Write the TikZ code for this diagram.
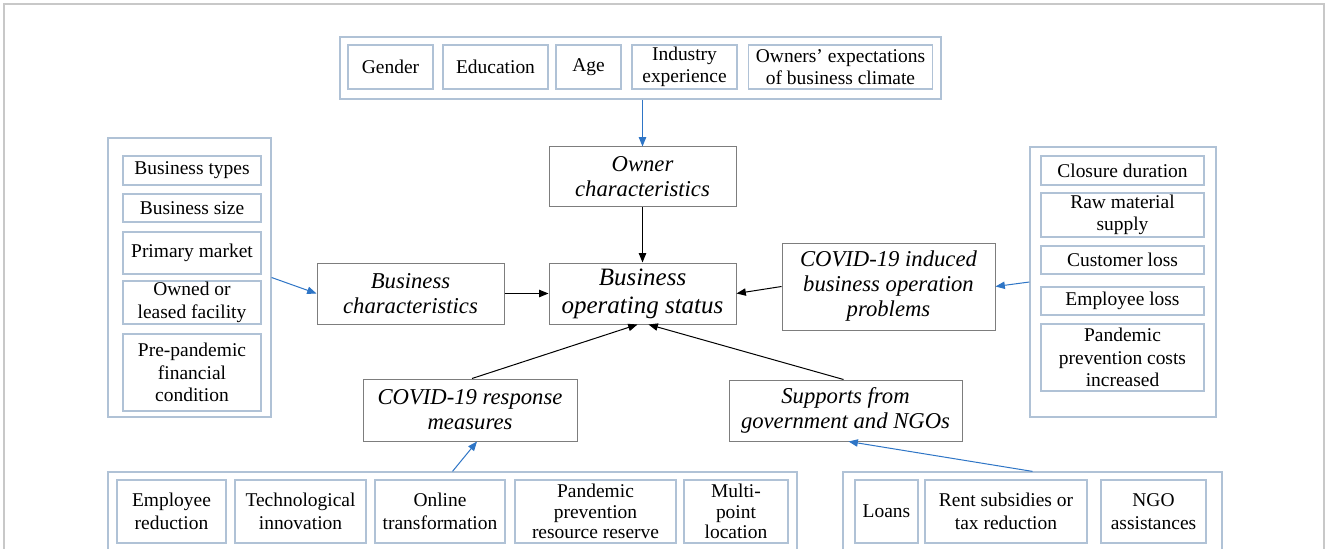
\documentclass[tikz,border=0pt]{standalone}
\usepackage{fontspec}
\setmainfont{Liberation Serif}
\usetikzlibrary{arrows.meta,calc}
\definecolor{grpc}{RGB}{176,194,214}
\definecolor{boxc}{RGB}{125,125,125}
\definecolor{arrb}{RGB}{46,117,198}
\definecolor{framec}{RGB}{200,200,200}
\tikzset{
 sz/.style 2 args={minimum width=#1*0.75pt, minimum height=#2*0.75pt},
 grp/.style={draw=grpc, line width=0.9pt, inner sep=0pt, rectangle},
 item/.style={draw=grpc, line width=0.9pt, inner sep=0pt, align=center, font=\fontsize{14.6}{16.9}\selectfont},
 tight/.style={font=\fontsize{14.6}{15.4}\selectfont},
 mainbox/.style={draw=boxc, line width=0.75pt, inner sep=0pt, align=center, font=\fontsize{17}{18.75}\selectfont\itshape},
 bigbox/.style={mainbox, font=\fontsize{18.75}{21}\selectfont\itshape},
 barr/.style={draw=arrb, line width=0.75pt, -{Triangle[length=7pt,width=5.5pt]}},
 karr/.style={draw=black, line width=0.75pt, -{Triangle[length=7pt,width=5.5pt]}},
}
\begin{document}
\begin{tikzpicture}[x=0.75pt,y=-0.75pt]
\useasboundingbox (0,0) rectangle (1328,549);
\fill[white] (0,0) rectangle (1328,549);
\draw[framec, line width=1pt] (4,549) -- (4,4) -- (1324,4) -- (1324,549);

% top group
\node[grp, sz={601}{62}] (tg) at (640.5,68) {};
\node[item, sz={85}{44}] (g1) at (390.5,67) {Gender};
\node[item, sz={105}{44}] (g2) at (495.5,67) {Education};
\node[item, sz={65}{44}] (g3) at (588.5,67) {Age};
\node[item, sz={105}{44}] (g4) at (684.5,67) {Industry\\experience};
\node[item, sz={184}{44}] (g5) at (840.5,67) {Owners' expectations\\of business climate};

% left group
\node[grp, sz={163}{279}] (lg) at (189.5,277.5) {};
\node[item, sz={138}{29}] (l1) at (192,170.5) {Business types};
\node[item, sz={138}{28}] (l2) at (192,208) {Business size};
\node[item, sz={138}{42}] (l3) at (192,253) {Primary market};
\node[item, sz={138}{43}] (l4) at (192,302.5) {Owned or\\leased facility};
\node[item, sz={138}{77}] (l5) at (192,372.5) {Pre-pandemic\\financial\\condition};

% right group
\node[grp, sz={186}{270}] (rg) at (1123,282) {};
\node[item, sz={163}{29}] (r1) at (1122.5,170.5) {Closure duration};
\node[item, sz={163}{44}] (r2) at (1122.5,215) {Raw material\\supply};
\node[item, sz={163}{28}] (r3) at (1122.5,260) {Customer loss};
\node[item, sz={163}{28}] (r4) at (1122.5,301) {Employee loss};
\node[item, sz={163}{67}] (r5) at (1122.5,357.5) {Pandemic\\prevention costs\\increased};

% bottom-left group
\node[grp, sz={689}{88}] (bl) at (452.5,516) {};
\node[item, sz={109}{63}] (b1) at (171.5,511.5) {Employee\\reduction};
\node[item, sz={131}{63}] (b2) at (300.5,511.5) {Technological\\innovation};
\node[item, sz={130}{63}] (b3) at (440,511.5) {Online\\transformation};
\node[item, tight, sz={161}{63}] (b4) at (595.5,511.5) {Pandemic\\prevention\\resource reserve};
\node[item, tight, sz={104}{63}] (b5) at (736,511.5) {Multi-\\point\\location};

% bottom-right group
\node[grp, sz={379}{88}] (br) at (1032.5,516) {};
\node[item, sz={63}{63}] (c1) at (886.5,511.5) {Loans};
\node[item, sz={162}{63}] (c2) at (1006,511.5) {Rent subsidies or\\tax reduction};
\node[item, sz={105}{63}] (c3) at (1153.5,511.5) {NGO\\assistances};

% main boxes
\node[mainbox, sz={187}{60}] (own) at (642.5,177) {Owner\\characteristics};
\node[bigbox, sz={187}{61}] (bos) at (642.5,293.5) {Business\\operating status};
\node[mainbox, sz={187}{61}] (bc) at (410.5,293.5) {Business\\characteristics};
\node[mainbox, sz={213}{87}] (ci) at (888.5,286.5) {COVID-19 induced\\business operation\\problems};
\node[mainbox, sz={214}{62}] (cr) at (470,410) {COVID-19 response\\measures};
\node[mainbox, sz={233}{61}] (sp) at (845.5,410.5) {Supports from\\government and NGOs};

% connectors
\draw[barr] (tg.south -| own.north) -- (own.north);
\draw[karr] (own.south) -- (bos.north);
\draw[barr] (lg.east) -- (bc.west);
\draw[karr] (bc.east) -- (bos.west);
\draw[karr] (ci.west) -- (bos.east);
\draw[barr] (rg.west) -- (ci.east);
\draw[karr] ($(cr.north)+(2,0)$) -- ($(bos.south)+(-5,0)$);
\draw[karr] ($(sp.north)+(-2,0)$) -- ($(bos.south)+(6,0)$);
\draw[barr] (bl.north) -- ($(cr.south)+(7,0)$);
\draw[barr] (br.north) -- ($(sp.south)+(3,0)$);
\end{tikzpicture}
\end{document}
